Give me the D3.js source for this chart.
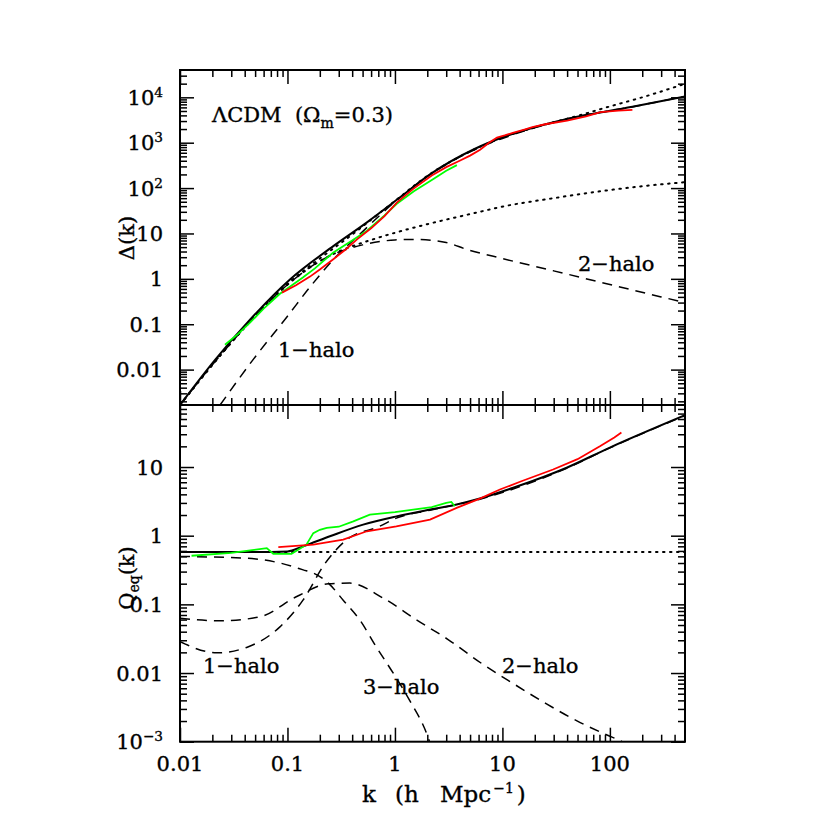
<!DOCTYPE html>
<html>
<head>
<meta charset="utf-8">
<script src="https://cdn.jsdelivr.net/npm/d3@7"></script>
<style>
    body { margin: 0; background: #fff; }
    svg text { font-family: 'DejaVu Serif', serif; fill: #000; stroke: #000; stroke-width: 0.35px; white-space: pre; }
</style>
</head>
<body>
<div id="chart"></div>
<script>
// ---- axis ticks / labels ----
const kTicks = [0.01, 0.1, 1, 10, 100];
const kTickLabels = ['0.01', '0.1', '1', '10', '100'];
const deltaTicks = [0.01, 0.1, 1, 10, 100, 1000, 10000];
const deltaTickLabels = ['0.01', '0.1', '1', '10', '10^2', '10^3', '10^4'];
const qTicks = [0.001, 0.01, 0.1, 1, 10];
const qTickLabels = ['10^\u22123', '0.01', '0.1', '1', '10'];

// ---- top panel: Delta(k) ----
const kDeltaTotal = [0.01, 0.0212, 0.0448, 0.1055, 0.265, 0.549, 1.11, 2.12, 5.5, 9.48, 39.8, 162, 500];
const deltaTotal = [0.00166, 0.0164, 0.126, 0.97, 5.2, 17.6, 62, 200, 726, 1250, 3343, 6170, 10500];

const kDeltaFit = [0.01, 0.0212, 0.0448, 0.1, 0.2, 0.4, 1, 2, 5, 10, 24, 50, 100, 200, 500];
const deltaFit = [0.00166, 0.015, 0.115, 0.78, 2.8, 9.5, 52, 185, 640, 1300, 2450, 3900, 6300, 10000, 19900];

const kDeltaLin = [0.01, 0.0212, 0.0448, 0.1, 0.2, 0.3, 0.38, 0.6, 1.11, 2, 6.17, 9.48, 30, 81.5, 200, 500];
const deltaLin = [0.00166, 0.015, 0.113, 0.74, 2.45, 4.0, 5.0, 7.2, 11.1, 16, 30, 38, 60, 85, 110, 135];

const kDelta2h = [0.01, 0.0212, 0.0448, 0.1, 0.2, 0.3, 0.5, 1, 1.5, 3, 4.65, 10, 30, 100, 300, 500];
const delta2h = [0.00166, 0.015, 0.113, 0.74, 2.45, 3.9, 5.6, 7.2, 7.4, 6.3, 4.45, 2.8, 1.5, 0.75, 0.4, 0.3];

const kDelta1h = [0.0236, 0.0477, 0.1, 0.162, 0.265, 0.5, 1, 2, 5.5, 10, 40, 160, 500];
const delta1h = [0.00166, 0.0164, 0.15, 0.66, 2.6, 11, 50, 180, 700, 1240, 3330, 6150, 10450];

const kDeltaGreen = [0.0262, 0.035, 0.0448, 0.06, 0.0851, 0.11, 0.139, 0.18, 0.265, 0.4, 0.549, 0.8, 1.04, 1.5, 2.26, 3.0, 3.77];
const deltaGreen = [0.0352, 0.062, 0.108, 0.22, 0.47, 0.72, 1.07, 1.7, 3.76, 7, 11.5, 25, 45, 85, 157, 240, 321];

const kDeltaRed = [0.0889, 0.12, 0.162, 0.2, 0.265, 0.35, 0.444, 0.6, 0.8, 1.04, 1.47, 2.2, 3.0, 4.0, 5.0, 6.2, 7.5, 8.9, 10.5, 12.5, 16, 19, 25, 40, 60, 82, 120, 162];
const deltaRed = [0.498, 0.72, 1.12, 1.6, 2.67, 4.5, 7.4, 13, 24, 48, 95, 190, 290, 400, 520, 700, 1000, 1300, 1450, 1650, 1950, 2200, 2550, 3050, 3800, 4700, 5100, 5300];

// ---- bottom panel: Q_eq(k) ----
const kQTotal = [0.01, 0.05, 0.1, 0.14, 0.248, 0.506, 1.03, 2.12, 3.75, 6.17, 12.6, 39.6, 100, 500];
const qTotal = [0.58, 0.58, 0.59, 0.70, 0.98, 1.45, 1.91, 2.4, 2.84, 3.47, 4.98, 9.77, 19.2, 56.8];

const kQPt = [0.01, 500];
const qPt = [0.58, 0.58];

const kQ1h = [0.01, 0.022, 0.0417, 0.0851, 0.14, 0.22, 0.356, 0.72, 1.03, 2.12, 6.17, 39.6, 100, 500];
const q1h = [0.0285, 0.0197, 0.0236, 0.047, 0.116, 0.38, 0.875, 1.37, 1.8, 2.35, 3.4, 9.6, 19, 56];

const kQ2h = [0.01, 0.0236, 0.0555, 0.122, 0.24, 0.38, 0.78, 1.6, 3.1, 6.4, 12.6, 25.5, 53, 94, 133, 180];
const q2h = [0.0626, 0.0575, 0.066, 0.13, 0.199, 0.204, 0.123, 0.059, 0.031, 0.0138, 0.00703, 0.00358, 0.0019, 0.00125, 0.00098, 0.0007];

const kQ3h = [0.01, 0.0417, 0.0851, 0.14, 0.174, 0.24, 0.33, 0.472, 0.67, 0.97, 1.37, 2.03, 2.5];
const q3h = [0.498, 0.47, 0.40, 0.318, 0.285, 0.204, 0.115, 0.059, 0.024, 0.0098, 0.004, 0.00116, 0.0004];

const kQGreen = [0.0128, 0.03, 0.0642, 0.0738, 0.109, 0.15, 0.174, 0.2, 0.232, 0.3, 0.41, 0.584, 1.0, 1.48, 2.2, 3.0, 3.35, 3.6];
const qGreen = [0.51, 0.56, 0.66, 0.545, 0.545, 0.74, 1.09, 1.22, 1.30, 1.35, 1.62, 2.03, 2.2, 2.4, 2.6, 3.0, 3.1, 2.68];

const kQRed = [0.0822, 0.174, 0.33, 0.548, 1.03, 2.12, 3.75, 6.17, 9.48, 15, 29.6, 50, 81.5, 110, 128];
const qRed = [0.68, 0.74, 0.874, 1.16, 1.37, 1.71, 2.54, 3.47, 4.70, 6.2, 9.2, 13, 20.2, 27, 31.8];

// ---- layout ----
const width = 830, height = 830;
const plotLeft = 180, plotRight = 685;
const topY0 = 70, midY = 405, botY1 = 741.7;

const svg = d3.select('#chart').append('svg')
    .attr('width', width).attr('height', height)
    .style('background', '#fff');

const x = d3.scaleLog().domain([0.01, 500]).range([plotLeft, plotRight]);
const yTop = d3.scaleLog().domain([0.00166, 40000]).range([midY, topY0]);
const yBot = d3.scaleLog().domain([0.001, 80]).range([botY1, midY]);

function minorTicks(domain) {
    const out = [];
    const lo = Math.floor(Math.log10(domain[0])), hi = Math.ceil(Math.log10(domain[1]));
    for (let e = lo; e < hi; e++) {
        for (let m = 2; m <= 9; m++) {
            const v = m * Math.pow(10, e);
            if (v > domain[0] && v < domain[1]) out.push(v);
        }
    }
    return out;
}

const zip = (ks, vs) => ks.map((k, i) => [k, vs[i]]);

// tick label with optional ^superscript
function addLabel(sel, str, size) {
    const parts = str.split('^');
    sel.append('tspan').text(parts[0]);
    if (parts[1]) sel.append('tspan').attr('dy', -8).style('font-size', (size * 0.65) + 'px').text(parts[1]);
}

function drawPanel(y, y0, y1, yTicks, yLabels, clipId) {
    const g = svg.append('g');
    const majorX = kTicks, minorX = minorTicks(x.domain());
    const majorY = yTicks, minorY = minorTicks(y.domain());

    const axes = [
        [d3.axisBottom(x), y1, 0, majorX, minorX],
        [d3.axisTop(x), y0, 0, majorX, minorX],
        [d3.axisLeft(y), 0, plotLeft, majorY, minorY],
        [d3.axisRight(y), 0, plotRight, majorY, minorY]
    ];
    axes.forEach(([ax, ty, tx, maj, min]) => {
        g.append('g').attr('transform', `translate(${tx},${ty})`)
            .call(ax.tickValues(maj).tickSize(-14).tickFormat(''))
            .call(s => s.select('.domain').remove())
            .selectAll('line').attr('stroke', '#000').attr('stroke-width', 1.5);
        g.append('g').attr('transform', `translate(${tx},${ty})`)
            .call(ax.tickValues(min).tickSize(-7).tickFormat(''))
            .call(s => s.select('.domain').remove())
            .selectAll('line').attr('stroke', '#000').attr('stroke-width', 1.5);
    });

    g.append('rect').attr('x', plotLeft).attr('y', y0)
        .attr('width', plotRight - plotLeft).attr('height', y1 - y0)
        .attr('fill', 'none').attr('stroke', '#000').attr('stroke-width', 2);

    yTicks.forEach((v, i) => {
        const t = g.append('text').attr('x', 163).attr('y', y(v) + 7.5)
            .attr('text-anchor', 'end').style('font-size', '21px');
        addLabel(t, yLabels[i], 21);
    });

    svg.append('clipPath').attr('id', clipId).append('rect')
        .attr('x', plotLeft).attr('y', y0).attr('width', plotRight - plotLeft).attr('height', y1 - y0);

    return svg.append('g').attr('clip-path', `url(#${clipId})`);
}

function curve(g, y, data, opts) {
    const line = d3.line()
        .x(d => x(d[0])).y(d => y(d[1]))
        .curve(opts.smooth ? d3.curveMonotoneX : d3.curveLinear);
    g.append('path').datum(data)
        .attr('fill', 'none')
        .attr('stroke', opts.color || '#000')
        .attr('stroke-width', opts.width || 1.5)
        .attr('stroke-dasharray', opts.dash || null)
        .attr('stroke-linecap', opts.dash === DOT ? 'round' : 'butt')
        .attr('d', line);
}

const DASH = '10,7', DOT = '1.5,5.5';

// top panel
const gTop = drawPanel(yTop, topY0, midY, deltaTicks, deltaTickLabels, 'clipTop');
curve(gTop, yTop, zip(kDeltaLin, deltaLin), { smooth: true, dash: DOT, width: 2 });
curve(gTop, yTop, zip(kDeltaFit, deltaFit), { smooth: true, dash: DOT, width: 2 });
curve(gTop, yTop, zip(kDelta2h, delta2h), { smooth: true, dash: DASH });
curve(gTop, yTop, zip(kDelta1h, delta1h), { smooth: true, dash: DASH });
curve(gTop, yTop, zip(kDeltaTotal, deltaTotal), { smooth: true, width: 2 });
curve(gTop, yTop, zip(kDeltaGreen, deltaGreen), { color: '#00ff00', width: 1.8 });
curve(gTop, yTop, zip(kDeltaRed, deltaRed), { color: '#ff0000', width: 1.8 });

// bottom panel
const gBot = drawPanel(yBot, midY, botY1, qTicks, qTickLabels, 'clipBot');
curve(gBot, yBot, zip(kQPt, qPt), { dash: DOT, width: 2 });
curve(gBot, yBot, zip(kQ1h, q1h), { smooth: true, dash: DASH });
curve(gBot, yBot, zip(kQ2h, q2h), { smooth: true, dash: DASH });
curve(gBot, yBot, zip(kQ3h, q3h), { smooth: true, dash: DASH });
curve(gBot, yBot, zip(kQTotal, qTotal), { smooth: true, width: 2 });
curve(gBot, yBot, zip(kQGreen, qGreen), { color: '#00ff00', width: 1.8 });
curve(gBot, yBot, zip(kQRed, qRed), { color: '#ff0000', width: 1.8 });

// x tick labels
kTicks.forEach((v, i) => {
    svg.append('text').attr('x', x(v)).attr('y', 771)
        .attr('text-anchor', 'middle').style('font-size', '21px')
        .text(kTickLabels[i]);
});

// axis titles (wide spacing like the original plot)
const xt = svg.append('text').attr('y', 802).style('font-size', '23px');
xt.append('tspan').attr('x', 362).text('k');
xt.append('tspan').attr('x', 395).text('(h');
xt.append('tspan').attr('x', 440).text('Mpc');
xt.append('tspan').attr('dx', 2).attr('dy', -9).style('font-size', '14px').text('\u22121');
xt.append('tspan').attr('dx', 3).attr('dy', 9).text(')');

svg.append('text').attr('transform', 'translate(134,238) rotate(-90)')
    .attr('text-anchor', 'middle').style('font-size', '21px').text('\u0394(k)');

const qt = svg.append('text').attr('transform', 'translate(134,578) rotate(-90)')
    .attr('text-anchor', 'middle').style('font-size', '21px');
qt.append('tspan').text('Q');
qt.append('tspan').attr('dy', 5).style('font-size', '14px').text('eq');
qt.append('tspan').attr('dy', -5).text('(k)');

// annotations
const title = svg.append('text').attr('x', 212).attr('y', 122).style('font-size', '21px');
title.append('tspan').text('\u039bCDM  (\u03a9');
title.append('tspan').attr('dy', 6).style('font-size', '14px').text('m');
title.append('tspan').attr('dy', -6).text('=0.3)');

const notes = [
    ['1\u2212halo', 278, 357],
    ['2\u2212halo', 578, 271],
    ['1\u2212halo', 203, 673],
    ['3\u2212halo', 363, 694],
    ['2\u2212halo', 502, 673]
];
notes.forEach(([t, nx, ny]) => {
    svg.append('text').attr('x', nx).attr('y', ny).style('font-size', '21px').text(t);
});
</script>
</body>
</html>
